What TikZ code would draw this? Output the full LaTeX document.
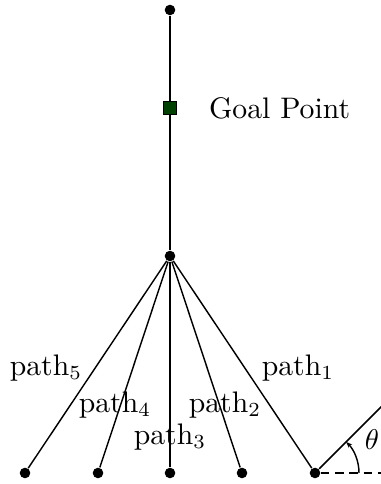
\documentclass[tikz,border=0pt]{standalone}
\usepackage{amsmath}
\usetikzlibrary{arrows.meta,calc}

\begin{document}
\begin{tikzpicture}[
  x=0.35pt,y=0.35pt,
  every node/.style={font=\fontsize{10.4}{12}\selectfont},
  dot/.style={circle,fill=black,inner sep=0pt,minimum size=3.7pt},
  goal/.style={draw=black,fill=green!25!black,inner sep=0pt,minimum size=4.3pt},
  seg/.style={line width=.5pt},
  ref/.style={dash pattern=on 3pt off 2pt,line width=.5pt}]
  \path[use as bounding box] (0,0) rectangle (381,484);
  \clip (0,0) rectangle (381,484);

  % Trunk up to the goal.
  \node[dot] (top) at (170,474) {};
  \node[goal] (gp) at (170,376) {};
  \node[dot] (hub) at (170,228) {};
  \draw[seg] (top) -- (gp) -- (hub);
  \node[anchor=west] (gplab) at (199,376) {Goal Point};

  % Fan of paths.
  \node[dot] (b1) at (315,11) {};
  \node[dot] (b2) at (242,11) {};
  \node[dot] (b3) at (170,11) {};
  \node[dot] (b4) at (98,11) {};
  \node[dot] (b5) at (25,11) {};
  \foreach \i in {1,...,5}
    \draw[seg] (hub) -- (b\i);
  \node (p1) at (298,116) {path$_1$};
  \node (p2) at (225,79) {path$_2$};
  \node (p3) at (170,47) {path$_3$};
  \node (p4) at (115,79) {path$_4$};
  \node (p5) at (46,116) {path$_5$};

  % Heading angle.
  \coordinate (far) at (415,111);
  \coordinate (east) at (381,11);
  \draw[seg] (b1) -- (far);
  \draw[ref] (b1) -- (east);
  \draw[seg,-{Stealth[length=2.2pt]}] ($(b1)+(44,0)$) arc[start angle=0,end angle=45,radius=44];
  \node (th) at (372,44) {$\theta$};
\end{tikzpicture}
\end{document}
